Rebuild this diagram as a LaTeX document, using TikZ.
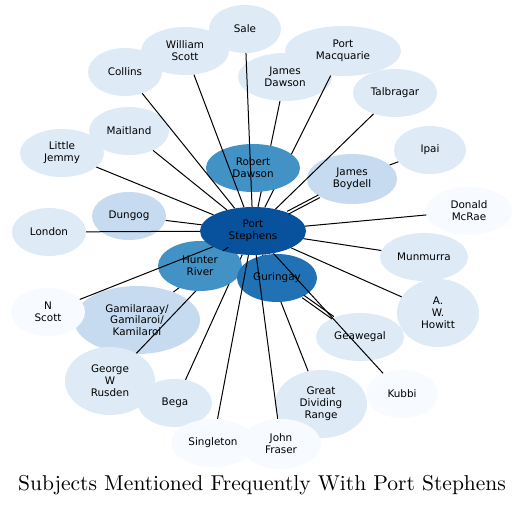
\documentclass[tikz,border=0pt]{standalone}
\usepackage{fontspec}
\newfontfamily\dvs{DejaVu Sans}
\newfontfamily\lmten{lmroman10-regular.otf}
\usetikzlibrary{shapes.geometric}
\definecolor{bA}{HTML}{F7FBFF}
\definecolor{bB}{HTML}{DEEBF7}
\definecolor{bC}{HTML}{C6DBEF}
\definecolor{bE}{HTML}{4292C6}
\definecolor{bF}{HTML}{2171B5}
\definecolor{bG}{HTML}{08519C}
\tikzset{
  nd/.style={ellipse, draw=none, inner sep=0pt, align=center,
    font=\dvs\fontsize{10.4}{11.8}\selectfont},
  ed/.style={draw=black, line width=1pt},
}
\newcommand{\nd}[7]{\node[nd, fill=#6, minimum width=#4pt*2, minimum height=#5pt*2] (#1) at (#2,#3) {#7};}
\begin{document}
\begin{tikzpicture}[x=1pt,y=-1pt]
\useasboundingbox[fill=white] (0,0) rectangle (525,505);
% background node
\nd{gam}{137}{320}{63}{34}{bC}{Gamilaraay/\\Gamilaroi/\\Kamilaroi}
% edges hidden under some nodes
\path (253,231) node[nd, minimum width=106pt, minimum height=48pt] (ps) {};
\draw[ed] (ps) -- (gam);
\nd{gwr}{110}{381}{45}{34}{bB}{George\\W\\Rusden}
\nd{bega}{175}{403}{37}{24}{bB}{Bega}
\nd{gdr}{321}{404}{46}{34}{bB}{Great\\Dividing\\Range}
\nd{jdawson}{285}{77}{47}{24}{bB}{James\\Dawson}
\nd{pmac}{343}{51}{58}{25}{bB}{Port\\Macquarie}
\draw[ed] (ps) -- (gwr);
\draw[ed] (ps) -- (bega);
\draw[ed] (ps) -- (gdr);
\draw[ed] (ps) -- (jdawson);
\draw[ed] (ps) -- (pmac);
% other nodes
\nd{wscott}{185}{51}{44}{24}{bB}{William\\Scott}
\nd{sale}{245}{29}{36}{24}{bB}{Sale}
\nd{collins}{125}{72}{37}{24}{bB}{Collins}
\nd{talb}{395}{93}{42}{24}{bB}{Talbragar}
\nd{mait}{129}{131}{40}{24}{bB}{Maitland}
\nd{ljem}{62}{153}{42}{24}{bB}{Little\\Jemmy}
\nd{rdaw}{253}{168}{47}{24}{bE}{Robert\\Dawson}
\nd{ipai}{430}{150}{36}{24}{bB}{Ipai}
\nd{jboy}{352}{179}{45}{25}{bC}{James\\Boydell}
\nd{dung}{129}{216}{37}{24}{bC}{Dungog}
\nd{lond}{49}{232}{37}{24}{bB}{London}
\nd{dmcrae}{469}{211}{43}{24}{bA}{Donald\\McRae}
\nd{munm}{424}{257}{44}{24}{bB}{Munmurra}
\nd{hunter}{200}{266}{42}{25}{bE}{Hunter\\River}
\nd{gur}{277}{278}{40}{24}{bF}{Guringay}
\nd{ps}{253}{231}{53}{24}{bG}{Port\\Stephens}
\nd{nscott}{48}{312}{37}{24}{bA}{N\\Scott}
\nd{howitt}{438}{313}{41}{34}{bB}{A.\\W.\\Howitt}
\nd{geaw}{360}{337}{44}{24}{bB}{Geawegal}
\nd{kubbi}{402}{394}{36}{24}{bA}{Kubbi}
\nd{sing}{213}{443}{42}{24}{bA}{Singleton}
\nd{jfr}{281}{444}{40}{25}{bA}{John\\Fraser}
% edges over nodes
\foreach \t in {sale,wscott,collins,talb,mait,ljem,dung,lond,dmcrae,munm,howitt,nscott,kubbi,sing,jfr,hunter,gur}
  \draw[ed] (ps) -- (\t);
\draw[ed, transform canvas={xshift=0.7pt,yshift=-1.33pt}] (ps) -- (jboy);
\draw[ed, transform canvas={xshift=-0.7pt,yshift=1.33pt}] (ps) -- (jboy);
\draw[ed] (jboy) -- (ipai);
\draw[ed, transform canvas={xshift=-0.87pt,yshift=-1.22pt}] (gur) -- (geaw);
\draw[ed, transform canvas={xshift=0.87pt,yshift=1.22pt}] (gur) -- (geaw);
% title
\node[anchor=base, font=\lmten\fontsize{21.5}{24}\selectfont, inner sep=0pt] (title) at (262,490) {Subjects Mentioned Frequently With Port Stephens};
\end{tikzpicture}
\end{document}
